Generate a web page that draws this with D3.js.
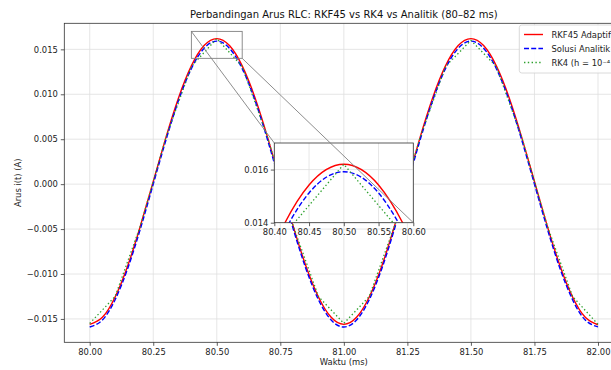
<!DOCTYPE html>
<html><head><meta charset="utf-8">
<script src="https://cdn.jsdelivr.net/npm/d3@7"></script>
<style>html,body{margin:0;padding:0;background:#fff;overflow:hidden}svg{display:block;font-family:"DejaVu Sans",sans-serif}</style>
</head><body>
<svg id="c" width="611" height="370"></svg>
<script>
// ---- data ----
const timeFine = [80.00,80.05,80.10,80.15,80.20,80.25,80.30,80.35,80.40,80.45,80.50,80.55,80.60,80.65,80.70,80.75,80.80,80.85,80.90,80.95,
  81.00,81.05,81.10,81.15,81.20,81.25,81.30,81.35,81.40,81.45,81.50,81.55,81.60,81.65,81.70,81.75,81.80,81.85,81.90,81.95,82.00];
const rkf45 = [-0.01560,-0.01482,-0.01256,-0.00905,-0.00461,0.00030,0.00521,0.00965,0.01316,0.01542,0.01620,0.01542,0.01316,0.00965,0.00521,0.00030,-0.00461,-0.00905,-0.01256,-0.01482,
  -0.01560,-0.01482,-0.01256,-0.00905,-0.00461,0.00030,0.00521,0.00965,0.01316,0.01542,0.01620,0.01542,0.01316,0.00965,0.00521,0.00030,-0.00461,-0.00905,-0.01256,-0.01482,-0.01565];
const analitik = [-0.01590,-0.01512,-0.01286,-0.00935,-0.00491,0.00000,0.00491,0.00935,0.01286,0.01512,0.01592,0.01512,0.01286,0.00935,0.00491,0.00000,-0.00491,-0.00935,-0.01286,-0.01512,
  -0.01590,-0.01512,-0.01286,-0.00935,-0.00491,0.00000,0.00491,0.00935,0.01286,0.01512,0.01592,0.01512,0.01286,0.00935,0.00491,0.00000,-0.00491,-0.00935,-0.01286,-0.01512,-0.01588];
const timeRK4 = [80.0,80.1,80.2,80.3,80.4,80.5,80.6,80.7,80.8,80.9,81.0,81.1,81.2,81.3,81.4,81.5,81.6,81.7,81.8,81.9,82.0];
const rk4 = [-0.0155,-0.0125,-0.0046,0.0052,0.0131,0.0162,0.0131,0.0052,-0.0046,-0.0125,-0.0155,-0.0125,-0.0046,0.0052,0.0131,0.0160,0.0131,0.0052,-0.0046,-0.0125,-0.0156];
const xTicks = [80.00,80.25,80.50,80.75,81.00,81.25,81.50,81.75,82.00];
const yTicks = [-0.015,-0.010,-0.005,0.000,0.005,0.010,0.015];
const insetXTicks = [80.40,80.45,80.50,80.55,80.60];
const insetYTicks = [0.014,0.016];
const seriesNames = ["RKF45 Adaptif","Solusi Analitik","RK4 (h = 10\u207B\u2074 s)"];
const titleText = "Perbandingan Arus RLC: RKF45 vs RK4 vs Analitik (80\u201382 ms)";

// ---- layout ----
const svg = d3.select("#c");
const P = {l:64.3, r:623.4, t:23.3, b:342.3};
const x = d3.scaleLinear().domain([79.9,82.1]).range([P.l,P.r]);
const y = d3.scaleLinear().domain([-0.0176,0.0179]).range([P.b,P.t]);
const fmt = v => (v<0?"\u2212":"")+Math.abs(v).toFixed(3);
const tickCol="#333", gridCol="#e0e0e0", fs=8.4;

const defs = svg.append("defs");
defs.append("clipPath").attr("id","mainClip").append("rect").attr("x",P.l).attr("y",P.t).attr("width",P.r-P.l).attr("height",P.b-P.t);

// grid
const g = svg.append("g");
g.selectAll(".gx").data(xTicks).enter().append("line").attr("x1",d=>x(d)).attr("x2",d=>x(d)).attr("y1",P.t).attr("y2",P.b).attr("stroke",gridCol).attr("stroke-width",0.8);
g.selectAll(".gy").data(yTicks).enter().append("line").attr("y1",d=>y(d)).attr("y2",d=>y(d)).attr("x1",P.l).attr("x2",P.r).attr("stroke",gridCol).attr("stroke-width",0.8);

// series
function drawSeries(parent, xs, ys, sx, sy, curve, color, dash, w, clip){
  const line = d3.line().x((d,i)=>sx(xs[i])).y(d=>sy(d)).curve(curve);
  parent.append("path").datum(ys).attr("d",line).attr("fill","none").attr("stroke",color)
    .attr("stroke-width",w).attr("stroke-dasharray",dash).attr("clip-path",`url(#${clip})`);
}
const RED="#ff0000", BLUE="#0000ff", GREEN="#2ca02c";
drawSeries(svg,timeFine,rkf45,x,y,d3.curveNatural,RED,null,1.4,"mainClip");
drawSeries(svg,timeFine,analitik,x,y,d3.curveNatural,BLUE,"5,2.2",1.4,"mainClip");
drawSeries(svg,timeRK4,rk4,x,y,d3.curveLinear,GREEN,"1.4,2.4",1.3,"mainClip");

// axes
const xa = svg.append("g").attr("transform",`translate(0,${P.b})`)
  .call(d3.axisBottom(x).tickValues(xTicks).tickFormat(d=>d.toFixed(2)).tickSize(3.5).tickPadding(3));
const ya = svg.append("g").attr("transform",`translate(${P.l},0)`)
  .call(d3.axisLeft(y).tickValues(yTicks).tickFormat(fmt).tickSize(3.5).tickPadding(3));
[xa,ya].forEach(a=>{a.select(".domain").remove();a.selectAll("line").attr("stroke",tickCol).attr("stroke-width",0.8);
  a.selectAll("text").attr("fill","#222").style("font-size",fs+"px").style("font-family","DejaVu Sans");});
svg.append("rect").attr("x",P.l).attr("y",P.t).attr("width",P.r-P.l).attr("height",P.b-P.t).attr("fill","none").attr("stroke","#333").attr("stroke-width",0.8);

// labels
svg.append("text").attr("x",(P.l+P.r)/2).attr("y",17.5).attr("text-anchor","middle").style("font-size","10px").attr("fill","#111").text(titleText);
svg.append("text").attr("x",(P.l+P.r)/2).attr("y",365).attr("text-anchor","middle").style("font-size",fs+"px").attr("fill","#222").text("Waktu (ms)");
svg.append("text").attr("transform",`translate(20.5,${(P.t+P.b)/2}) rotate(-90)`).attr("text-anchor","middle").style("font-size",fs+"px").attr("fill","#222").text("Arus i(t) (A)");

// legend
const lg = svg.append("g");
lg.append("rect").attr("x",519.3).attr("y",25).attr("width",110).attr("height",48).attr("rx",2.5)
  .attr("fill","#fff").attr("fill-opacity",0.85).attr("stroke","#d0d0d0").attr("stroke-width",0.8);
const legCols=[RED,BLUE,GREEN], legDash=[null,"5,2.2","1.4,2.4"];
seriesNames.forEach((n,i)=>{
  const yy = 34.5+i*14;
  lg.append("line").attr("x1",524).attr("x2",543).attr("y1",yy).attr("y2",yy).attr("stroke",legCols[i]).attr("stroke-width",1.4).attr("stroke-dasharray",legDash[i]);
  lg.append("text").attr("x",551.5).attr("y",yy+3).style("font-size",fs+"px").attr("fill","#222").text(n);
});

// zoom rectangle in main
const I = {l:274.3, r:413.3, t:143, b:222.7};
const ix = d3.scaleLinear().domain([80.4,80.6]).range([I.l,I.r]);
const iy = d3.scaleLinear().domain([0.014,0.017]).range([I.b,I.t]);
svg.append("rect").attr("x",x(80.4)).attr("y",y(0.017)).attr("width",x(80.6)-x(80.4)).attr("height",y(0.014)-y(0.017))
  .attr("fill","none").attr("stroke","#808080").attr("stroke-width",0.9);

// inset
defs.append("clipPath").attr("id","insetClip").append("rect").attr("x",I.l).attr("y",I.t).attr("width",I.r-I.l).attr("height",I.b-I.t);
const ig = svg.append("g");
ig.append("rect").attr("x",I.l).attr("y",I.t).attr("width",I.r-I.l).attr("height",I.b-I.t).attr("fill","#fff");
ig.selectAll(".igx").data(insetXTicks).enter().append("line").attr("x1",d=>ix(d)).attr("x2",d=>ix(d)).attr("y1",I.t).attr("y2",I.b).attr("stroke",gridCol).attr("stroke-width",0.8);
ig.selectAll(".igy").data(insetYTicks).enter().append("line").attr("y1",d=>iy(d)).attr("y2",d=>iy(d)).attr("x1",I.l).attr("x2",I.r).attr("stroke",gridCol).attr("stroke-width",0.8);
drawSeries(ig,timeFine,rkf45,ix,iy,d3.curveNatural,RED,null,1.4,"insetClip");
drawSeries(ig,timeFine,analitik,ix,iy,d3.curveNatural,BLUE,"5,2.2",1.4,"insetClip");
drawSeries(ig,timeRK4,rk4,ix,iy,d3.curveLinear,GREEN,"1.4,2.4",1.3,"insetClip");
const ixa = ig.append("g").attr("transform",`translate(0,${I.b})`)
  .call(d3.axisBottom(ix).tickValues(insetXTicks).tickFormat(d=>d.toFixed(2)).tickSize(3.5).tickPadding(2.5));
const iya = ig.append("g").attr("transform",`translate(${I.l},0)`)
  .call(d3.axisLeft(iy).tickValues(insetYTicks).tickFormat(d=>d.toFixed(3)).tickSize(3.5).tickPadding(2.5));
[ixa,iya].forEach(a=>{a.select(".domain").remove();a.selectAll("line").attr("stroke",tickCol).attr("stroke-width",0.8);
  a.selectAll("text").attr("fill","#222").style("font-size",fs+"px").style("font-family","DejaVu Sans");});
ig.append("rect").attr("x",I.l).attr("y",I.t).attr("width",I.r-I.l).attr("height",I.b-I.t).attr("fill","none").attr("stroke","#333").attr("stroke-width",0.8);

// connectors
svg.append("line").attr("x1",x(80.4)).attr("y1",y(0.017)).attr("x2",I.l).attr("y2",I.t).attr("stroke","#808080").attr("stroke-width",0.9);
svg.append("line").attr("x1",x(80.6)).attr("y1",y(0.014)).attr("x2",I.r).attr("y2",I.b).attr("stroke","#808080").attr("stroke-width",0.9);
</script>
</body></html>
